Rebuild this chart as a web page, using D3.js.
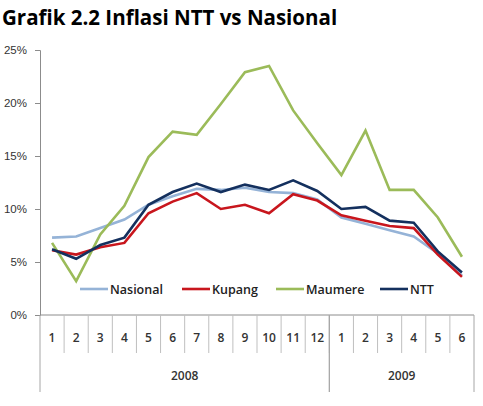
<!DOCTYPE html>
<html>
<head>
<meta charset="utf-8">
<script src="https://cdn.jsdelivr.net/npm/d3@7"></script>
<style>
  body { margin: 0; background: #fff; }
  svg text { font-family: "Open Sans", "DejaVu Sans", sans-serif; }
</style>
</head>
<body>
<div id="chart"></div>
<script>
// Inflasi NTT vs Nasional, monthly yoy (%)
var monthLabels = ["1","2","3","4","5","6","7","8","9","10","11","12","1","2","3","4","5","6"];
var yearLabels = ["2008", "2009"];
var yearCounts = [12, 6];
var yTicks = [0, 5, 10, 15, 20, 25];

var nasional = [7.3, 7.4, 8.2, 9.0, 10.4, 11.2, 11.9, 11.8, 12.0, 11.6, 11.5, 10.9, 9.2, 8.6, 8.0, 7.4, 5.8, 3.7];
var kupang   = [6.1, 5.7, 6.4, 6.8, 9.6, 10.7, 11.5, 10.0, 10.4, 9.6, 11.4, 10.8, 9.4, 8.9, 8.4, 8.2, 5.7, 3.6];
var maumere  = [6.8, 3.2, 7.6, 10.3, 14.9, 17.3, 17.0, 19.9, 22.9, 23.5, 19.3, 16.2, 13.2, 17.4, 11.8, 11.8, 9.2, 5.5];
var ntt      = [6.2, 5.3, 6.6, 7.3, 10.4, 11.6, 12.4, 11.6, 12.3, 11.8, 12.7, 11.7, 10.0, 10.2, 8.9, 8.7, 6.0, 4.0];

var seriesNames = ["Nasional", "Kupang", "Maumere", "NTT"];
var seriesValues = [nasional, kupang, maumere, ntt];
var seriesColors = ["#95b3d7", "#c8161d", "#9bbb59", "#14305e"];

const width = 483, height = 406;
const plotLeft = 40, plotRight = 474, plotTop = 50, plotBottom = 315;
const axisColor = "#8c8c8c";

const svg = d3.select("#chart").append("svg")
  .attr("width", width)
  .attr("height", height);

svg.append("text")
  .attr("x", 2).attr("y", 25)
  .style("font-family", "'Open Sans', sans-serif")
  .style("font-weight", "700")
  .style("font-size", "20.5px")
  .style("fill", "#000")
  .text("Grafik 2.2 Inflasi NTT vs Nasional");

const idx = d3.range(monthLabels.length);
const x = d3.scaleBand().domain(idx).range([plotLeft, plotRight]).paddingInner(0).paddingOuter(0);
const y = d3.scaleLinear().domain([0, 25]).range([plotBottom, plotTop]);

// Y axis
const yAxis = svg.append("g")
  .attr("transform", `translate(${plotLeft},0)`)
  .call(d3.axisLeft(y).tickValues(yTicks).tickFormat(d => d + "%").tickSize(5).tickPadding(8));
yAxis.select(".domain").attr("stroke", axisColor);
yAxis.selectAll(".tick line").attr("stroke", axisColor);
yAxis.selectAll(".tick text")
  .style("font-size", "11.5px")
  .style("fill", "#333")
  .style("font-family", "'Liberation Sans', sans-serif");

// X axis baseline
svg.append("line")
  .attr("x1", plotLeft).attr("x2", plotRight)
  .attr("y1", y(0)).attr("y2", y(0))
  .attr("stroke", axisColor);

// month separators and labels
const monthTickLen = 38, yearTickLen = 77;
idx.forEach((d, i) => {
  if (i > 0) {
    svg.append("line")
      .attr("x1", x(d)).attr("x2", x(d))
      .attr("y1", y(0)).attr("y2", y(0) + monthTickLen)
      .attr("stroke", "#bfbfbf");
  }
  svg.append("text")
    .attr("x", x(d) + x.bandwidth() / 2)
    .attr("y", y(0) + 27)
    .attr("text-anchor", "middle")
    .style("font-size", "12px")
    .style("font-weight", "600")
    .style("fill", "#333")
    .text(monthLabels[i]);
});

// year groups
var start = 0;
yearLabels.forEach((lab, k) => {
  var end = start + yearCounts[k];
  var x0 = x(start);
  var x1 = end < idx.length ? x(end) : plotRight;
  [x0, x1].forEach(xx => {
    svg.append("line")
      .attr("x1", xx).attr("x2", xx)
      .attr("y1", y(0)).attr("y2", y(0) + yearTickLen)
      .attr("stroke", "#a6a6a6");
  });
  svg.append("text")
    .attr("x", (x0 + x1) / 2)
    .attr("y", y(0) + 65)
    .attr("text-anchor", "middle")
    .style("font-size", "12px")
    .style("font-weight", "600")
    .style("fill", "#333")
    .text(lab);
  start = end;
});

// series lines
const line = d3.line()
  .x((d, i) => x(i) + x.bandwidth() / 2)
  .y(d => y(d));

seriesValues.forEach((vals, s) => {
  svg.append("path")
    .datum(vals)
    .attr("d", line)
    .attr("fill", "none")
    .attr("stroke", seriesColors[s])
    .attr("stroke-width", 2.6)
    .attr("stroke-linejoin", "miter");
});

// legend
var legendX = [80, 182, 276, 380];
const legendY = 289;
seriesNames.forEach((name, s) => {
  const g = svg.append("g").attr("transform", `translate(${legendX[s]},${legendY})`);
  g.append("line")
    .attr("x1", 0).attr("x2", 28)
    .attr("y1", 0).attr("y2", 0)
    .attr("stroke", seriesColors[s])
    .attr("stroke-width", 2.6);
  g.append("text")
    .attr("x", 30).attr("y", 4.5)
    .style("font-size", "12.5px")
    .style("font-weight", "600")
    .style("fill", "#222")
    .text(name);
});
</script>
</body>
</html>
